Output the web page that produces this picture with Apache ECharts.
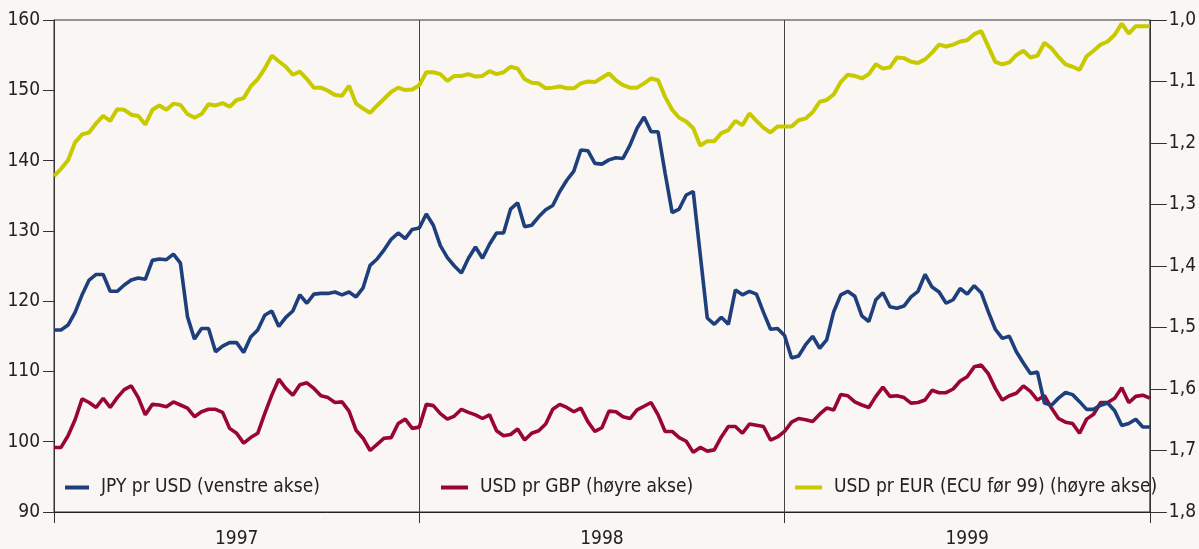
<!DOCTYPE html>
<html>
<head>
<meta charset="utf-8">
<script src="https://cdn.jsdelivr.net/npm/echarts@6/dist/echarts.min.js"></script>
<style>
html,body{margin:0;padding:0;background:#f9f6f3;}
#chart{width:1199px;height:549px;}
</style>
</head>
<body>
<div id="chart"></div>
<script>
var years = ['1997', '1998', '1999'];
var yenTicks = [90, 100, 110, 120, 130, 140, 150, 160];
var rightTicks = ['1,0', '1,1', '1,2', '1,3', '1,4', '1,5', '1,6', '1,7', '1,8'];

var jpyPerUsd = [
115.9, 115.9, 116.6, 118.4, 120.9, 123.0, 123.8, 123.8, 121.4, 121.4,
122.3, 123.0, 123.3, 123.1, 125.8, 126.0, 125.9, 126.7, 125.4, 117.8,
114.6, 116.1, 116.1, 112.8, 113.6, 114.1, 114.1, 112.7, 114.9, 115.9,
118.0, 118.6, 116.4, 117.7, 118.6, 120.9, 119.7, 121.0, 121.1, 121.1,
121.3, 120.9, 121.3, 120.6, 121.9, 125.1, 126.0, 127.3, 128.8, 129.7,
128.9, 130.2, 130.4,
132.4, 130.8, 127.9, 126.2, 125.0, 124.0, 126.1, 127.7, 126.1, 128.1,
129.7, 129.7, 133.1, 134.0, 130.6, 130.8, 132.0, 133.0, 133.6, 135.6,
137.2, 138.5, 141.5, 141.4, 139.6, 139.5, 140.1, 140.4, 140.3, 142.2,
144.6, 146.2, 144.1, 144.1, 138.2, 132.6, 133.1, 135.1, 135.6, 126.6,
117.6, 116.7, 117.7, 116.7, 121.6, 120.9, 121.4, 121.0, 118.4, 116.0,
116.1, 115.1,
111.9, 112.2, 113.8, 115.0, 113.3, 114.5, 118.5, 120.9, 121.4, 120.7,
117.9, 117.1, 120.2, 121.2, 119.2, 119.0, 119.3, 120.6, 121.4, 123.8,
122.0, 121.3, 119.7, 120.2, 121.8, 121.0, 122.2, 121.2, 118.5, 116.0,
114.7, 115.0, 112.8, 111.2, 109.7, 109.9, 105.5, 105.2, 106.2, 107.0,
106.7, 105.7, 104.6, 104.6, 105.2, 105.5, 104.4, 102.3, 102.6, 103.2,
102.1, 102.1
];

var usdPerGbp = [
1.695, 1.695, 1.676, 1.650, 1.616, 1.622, 1.630, 1.615, 1.630, 1.614,
1.601, 1.595, 1.614, 1.642, 1.625, 1.626, 1.629, 1.621, 1.626, 1.631,
1.645, 1.637, 1.633, 1.633, 1.638, 1.664, 1.672, 1.688, 1.679, 1.672,
1.640, 1.610, 1.584, 1.599, 1.610, 1.593, 1.590, 1.599, 1.611, 1.614,
1.622, 1.621, 1.636, 1.667, 1.680, 1.700, 1.690, 1.680, 1.679, 1.656,
1.649, 1.664, 1.662,
1.625, 1.627, 1.640, 1.649, 1.644, 1.633, 1.638, 1.642, 1.648, 1.642,
1.668, 1.676, 1.674, 1.665, 1.683, 1.672, 1.668, 1.657, 1.633, 1.625,
1.630, 1.637, 1.631, 1.653, 1.669, 1.663, 1.636, 1.637, 1.645, 1.648,
1.634, 1.628, 1.622, 1.642, 1.669, 1.669, 1.679, 1.685, 1.703, 1.695,
1.701, 1.699, 1.678, 1.661, 1.661, 1.672, 1.657, 1.659, 1.661, 1.683,
1.678, 1.669,
1.654, 1.648, 1.650, 1.653, 1.641, 1.631, 1.634, 1.609, 1.611, 1.621,
1.626, 1.630, 1.612, 1.597, 1.612, 1.611, 1.614, 1.623, 1.622, 1.618,
1.602, 1.606, 1.606, 1.600, 1.587, 1.580, 1.564, 1.561, 1.575, 1.599,
1.618, 1.611, 1.607, 1.595, 1.604, 1.618, 1.611, 1.631, 1.648, 1.654,
1.656, 1.672, 1.649, 1.641, 1.622, 1.622, 1.615, 1.598, 1.622, 1.612,
1.610, 1.615
];

var usdPerEur = [
1.254, 1.242, 1.228, 1.199, 1.186, 1.183, 1.168, 1.156, 1.164, 1.145,
1.146, 1.154, 1.156, 1.170, 1.146, 1.139, 1.146, 1.136, 1.138, 1.153,
1.159, 1.153, 1.137, 1.139, 1.135, 1.141, 1.130, 1.127, 1.108, 1.096,
1.079, 1.058, 1.067, 1.076, 1.089, 1.084, 1.096, 1.110, 1.110, 1.115,
1.122, 1.123, 1.107, 1.136, 1.144, 1.151, 1.139, 1.128, 1.117, 1.110,
1.114, 1.113, 1.106,
1.085, 1.085, 1.088, 1.099, 1.091, 1.091, 1.088, 1.092, 1.091, 1.083,
1.088, 1.085, 1.076, 1.079, 1.096, 1.102, 1.103, 1.111, 1.110, 1.108,
1.111, 1.111, 1.103, 1.100, 1.101, 1.094, 1.087, 1.098, 1.106, 1.110,
1.110, 1.103, 1.095, 1.098, 1.125, 1.146, 1.159, 1.165, 1.176, 1.204,
1.197, 1.197, 1.184, 1.179, 1.164, 1.171, 1.152, 1.164, 1.175, 1.183,
1.173, 1.173,
1.173, 1.163, 1.160, 1.150, 1.133, 1.130, 1.121, 1.101, 1.089, 1.091,
1.095, 1.088, 1.072, 1.079, 1.077, 1.061, 1.062, 1.068, 1.070, 1.064,
1.053, 1.040, 1.043, 1.040, 1.035, 1.033, 1.023, 1.018, 1.043, 1.068,
1.072, 1.069, 1.057, 1.050, 1.061, 1.058, 1.037, 1.046, 1.060, 1.072,
1.076, 1.081, 1.059, 1.050, 1.040, 1.035, 1.024, 1.006, 1.022, 1.010,
1.010, 1.010
];

var names = ['JPY pr USD (venstre akse)', 'USD pr GBP (høyre akse)', 'USD pr EUR (ECU før 99) (høyre akse)'];
var colors = ['#1e3f7c', '#9a0538', '#c9c900'];

var weeks = jpyPerUsd.map(function (_, i) { return 'w' + i; });

var FONT = "'DejaVu Sans Condensed', 'Liberation Sans Narrow', 'Roboto', sans-serif";
var FS = 19;
var TXT = '#222';

function legendAt(i, left, w) {
  return {
    data: [names[i]],
    left: left, top: 478, padding: 0,
    itemWidth: w, itemHeight: 4, icon: 'rect',
    textStyle: { fontFamily: FONT, fontSize: FS, color: TXT, padding: [0, 0, 0, 7] }
  };
}

var chart = echarts.init(document.getElementById('chart'), null, { renderer: 'canvas' });
chart.setOption({
  backgroundColor: '#f9f6f3',
  animation: false,
  grid: { left: 54, right: 49, top: 20, bottom: 37, show: true, borderColor: '#333', borderWidth: 1, backgroundColor: 'transparent' },
  legend: [legendAt(0, 65, 24), legendAt(1, 441, 27), legendAt(2, 795, 27)],
  xAxis: [
    {
      type: 'category', data: years, boundaryGap: true, position: 'bottom',
      axisLine: { lineStyle: { color: '#222', width: 1 } },
      axisTick: { show: true, length: 11, lineStyle: { color: '#333' } },
      axisLabel: { fontFamily: FONT, fontSize: FS, color: TXT, margin: 18 },
      splitLine: { show: true, lineStyle: { color: '#444', width: 1 } }
    },
    {
      type: 'category', data: weeks, boundaryGap: false, show: false
    }
  ],
  yAxis: [
    {
      type: 'value', min: 90, max: 160, interval: 10, position: 'left',
      axisLine: { show: true, lineStyle: { color: '#333' } },
      axisTick: { show: true, length: 11, lineStyle: { color: '#333' } },
      axisLabel: { fontFamily: FONT, fontSize: FS, color: TXT, margin: 14 },
      splitLine: { show: false }
    },
    {
      type: 'value', min: 1.0, max: 1.8, interval: 0.1, position: 'right', inverse: true,
      axisLine: { show: true, lineStyle: { color: '#333' } },
      axisTick: { show: true, length: 17, lineStyle: { color: '#333' } },
      axisLabel: {
        fontFamily: FONT, fontSize: FS, color: TXT, margin: 19,
        formatter: function (v) { return rightTicks[Math.round((v - 1.0) * 10)]; }
      },
      splitLine: { show: false }
    }
  ],
  series: [
    {
      name: names[2], type: 'line', xAxisIndex: 1, yAxisIndex: 1, data: usdPerEur,
      symbol: 'none', clip: false, color: colors[2],
      lineStyle: { color: colors[2], width: 4 }
    },
    {
      name: names[1], type: 'line', xAxisIndex: 1, yAxisIndex: 1, data: usdPerGbp,
      symbol: 'none', clip: false, color: colors[1],
      lineStyle: { color: colors[1], width: 3.6 }
    },
    {
      name: names[0], type: 'line', xAxisIndex: 1, yAxisIndex: 0, data: jpyPerUsd,
      symbol: 'none', clip: false, color: colors[0],
      lineStyle: { color: colors[0], width: 3.6 }
    }
  ]
});
</script>
</body>
</html>
